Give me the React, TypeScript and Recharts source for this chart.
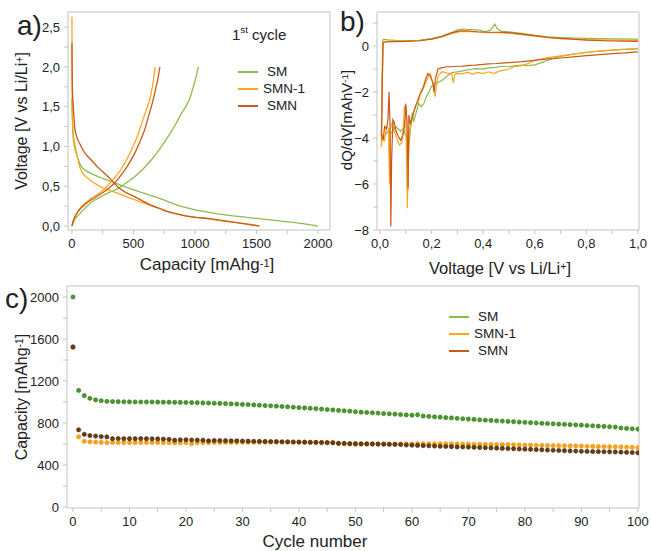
import React from 'react';
import { LineChart, Line, ScatterChart, Scatter, XAxis, YAxis } from 'recharts';

const FONT = '"Liberation Sans", Arial, sans-serif';

// series names + colours
const seriesNames = ['SM', 'SMN-1', 'SMN'];
const lineColors = ['#8dbb4c', '#ffa51f', '#c85a1a'];
const dotFill = ['#4c9a2a', '#ffa31a', '#6b3d12'];
const dotEdge = ['#2f6e14', '#e68a00', '#3d2108'];

// a) first cycle, [capacity mAh/g, voltage V]
const smDischarge: [number, number][] = [[0, 1.6], [3, 1.38], [8, 1.16], [20, 1.0], [35, 0.91], [55, 0.82], [76, 0.75], [120, 0.69], [184, 0.64], [250, 0.6], [320, 0.56], [400, 0.51], [509, 0.45], [590, 0.41], [672, 0.37], [760, 0.32], [862, 0.26], [960, 0.22], [1079, 0.18], [1200, 0.15], [1350, 0.12], [1500, 0.095], [1650, 0.07], [1800, 0.045], [1900, 0.025], [2000, 0]];
const smCharge: [number, number][] = [[0, 0], [10, 0.04], [25, 0.09], [49, 0.13], [85, 0.19], [130, 0.26], [180, 0.32], [238, 0.37], [300, 0.42], [374, 0.47], [440, 0.54], [509, 0.62], [580, 0.72], [645, 0.83], [710, 0.96], [780, 1.12], [840, 1.27], [889, 1.41], [925, 1.5], [957, 1.6], [985, 1.74], [1010, 1.88], [1027, 2.0]];
const smn1Discharge: [number, number][] = [[0, 2.63], [0.5, 2.3], [1, 1.95], [2, 1.6], [4, 1.38], [10, 1.18], [22, 1.04], [40, 0.9], [62, 0.75], [90, 0.66], [130, 0.6], [180, 0.54], [238, 0.49], [300, 0.45], [374, 0.41], [440, 0.37], [509, 0.33], [580, 0.29], [645, 0.255], [715, 0.22], [780, 0.18], [860, 0.15], [943, 0.125], [1030, 0.105], [1150, 0.08], [1250, 0.06], [1350, 0.04], [1450, 0.02], [1520, 0]];
const smn1Charge: [number, number][] = [[0, 0], [8, 0.05], [20, 0.1], [40, 0.16], [76, 0.24], [120, 0.3], [157, 0.35], [200, 0.39], [238, 0.43], [280, 0.49], [320, 0.56], [360, 0.63], [401, 0.72], [440, 0.82], [482, 0.95], [520, 1.08], [550, 1.21], [580, 1.35], [604, 1.46], [631, 1.58], [650, 1.72], [665, 1.86], [675, 2.0]];
const smnDischarge: [number, number][] = [[0, 2.3], [1, 2.1], [2, 1.9], [4, 1.72], [8, 1.58], [14, 1.42], [22, 1.25], [40, 1.12], [62, 1.04], [100, 0.93], [157, 0.83], [210, 0.74], [266, 0.66], [320, 0.58], [374, 0.49], [440, 0.42], [509, 0.37], [580, 0.31], [645, 0.26], [715, 0.22], [780, 0.18], [860, 0.15], [943, 0.12], [1030, 0.105], [1106, 0.095], [1200, 0.075], [1310, 0.05], [1420, 0.025], [1525, 0]];
const smnCharge: [number, number][] = [[0, 0], [8, 0.05], [20, 0.1], [40, 0.16], [76, 0.23], [120, 0.29], [170, 0.34], [220, 0.39], [270, 0.44], [310, 0.49], [347, 0.54], [390, 0.62], [428, 0.7], [470, 0.8], [509, 0.91], [550, 1.05], [591, 1.21], [625, 1.39], [659, 1.58], [680, 1.72], [700, 1.86], [715, 2.0]];

// b) dQ/dV, [voltage, dQ/dV] - discharge branch right->left, then charge branch
const smDqdv: [number, number][] = [[1.0, -0.12], [0.95, -0.15], [0.9, -0.18], [0.85, -0.22], [0.8, -0.27], [0.75, -0.35], [0.7, -0.45], [0.67, -0.55], [0.63, -0.7], [0.6, -0.82], [0.57, -0.85], [0.55, -0.83], [0.52, -0.86], [0.5, -0.9], [0.47, -0.88], [0.45, -0.93], [0.42, -0.95], [0.4, -1.0], [0.37, -0.98], [0.35, -1.02], [0.32, -1.08], [0.3, -1.12], [0.28, -1.15], [0.26, -1.3], [0.24, -1.5], [0.22, -1.6], [0.2, -1.75], [0.19, -2.0], [0.18, -2.2], [0.17, -2.5], [0.16, -2.64], [0.15, -2.5], [0.14, -2.9], [0.13, -3.3], [0.125, -2.9], [0.118, -3.6], [0.113, -4.3], [0.105, -4.0], [0.1, -3.9], [0.09, -3.6], [0.08, -3.7], [0.07, -3.6], [0.06, -3.5], [0.05, -3.7], [0.04, -3.8], [0.03, -3.7], [0.02, -3.9], [0.01, -4.0], [0.005, -3.9], [0.008, -1.5], [0.011, 0.25], [0.015, 0.3], [0.03, 0.27], [0.06, 0.25], [0.1, 0.24], [0.15, 0.25], [0.2, 0.32], [0.24, 0.42], [0.28, 0.6], [0.3, 0.7], [0.32, 0.74], [0.35, 0.72], [0.38, 0.7], [0.41, 0.62], [0.43, 0.7], [0.445, 0.95], [0.455, 0.75], [0.47, 0.64], [0.5, 0.62], [0.55, 0.55], [0.6, 0.46], [0.65, 0.4], [0.7, 0.37], [0.8, 0.33], [0.9, 0.31], [1.0, 0.3]];
const smn1Dqdv: [number, number][] = [[1.0, -0.1], [0.95, -0.13], [0.9, -0.18], [0.85, -0.22], [0.8, -0.28], [0.75, -0.35], [0.7, -0.43], [0.65, -0.5], [0.6, -0.62], [0.57, -0.78], [0.55, -0.85], [0.52, -0.9], [0.5, -1.0], [0.48, -1.05], [0.46, -1.1], [0.44, -1.2], [0.42, -1.12], [0.4, -1.2], [0.38, -1.15], [0.36, -1.22], [0.34, -1.15], [0.32, -1.2], [0.3, -1.2], [0.29, -1.25], [0.284, -1.6], [0.278, -1.2], [0.26, -1.18], [0.24, -1.12], [0.225, -1.3], [0.213, -2.2], [0.205, -1.6], [0.194, -1.2], [0.18, -1.5], [0.17, -1.8], [0.16, -1.9], [0.15, -2.4], [0.14, -2.6], [0.13, -2.9], [0.12, -3.4], [0.113, -3.9], [0.106, -7.05], [0.1, -3.0], [0.095, -2.6], [0.09, -3.6], [0.085, -4.2], [0.075, -4.3], [0.065, -4.0], [0.055, -3.7], [0.048, -3.3], [0.04, -3.6], [0.037, -6.0], [0.033, -3.6], [0.025, -3.5], [0.018, -4.1], [0.01, -3.9], [0.005, -4.4], [0.009, -1.5], [0.012, 0.15], [0.02, 0.2], [0.05, 0.2], [0.1, 0.21], [0.15, 0.23], [0.2, 0.3], [0.24, 0.4], [0.28, 0.55], [0.31, 0.63], [0.34, 0.64], [0.38, 0.6], [0.42, 0.58], [0.46, 0.58], [0.5, 0.56], [0.55, 0.5], [0.6, 0.43], [0.65, 0.37], [0.7, 0.32], [0.8, 0.28], [0.9, 0.26], [1.0, 0.25]];
const smnDqdv: [number, number][] = [[1.0, -0.25], [0.95, -0.3], [0.9, -0.33], [0.85, -0.37], [0.8, -0.42], [0.75, -0.47], [0.7, -0.52], [0.65, -0.56], [0.6, -0.62], [0.55, -0.68], [0.5, -0.72], [0.47, -0.74], [0.45, -0.76], [0.42, -0.78], [0.4, -0.8], [0.37, -0.83], [0.35, -0.84], [0.32, -0.87], [0.3, -0.88], [0.28, -0.9], [0.26, -0.9], [0.24, -0.94], [0.225, -1.0], [0.215, -1.4], [0.21, -2.0], [0.205, -1.6], [0.195, -1.3], [0.185, -1.2], [0.175, -1.5], [0.165, -1.9], [0.155, -2.1], [0.145, -2.4], [0.135, -2.7], [0.125, -3.1], [0.118, -3.4], [0.112, -3.0], [0.109, -6.2], [0.105, -3.3], [0.1, -2.5], [0.095, -3.5], [0.088, -3.9], [0.08, -4.1], [0.07, -3.9], [0.062, -3.7], [0.055, -3.3], [0.05, -3.2], [0.045, -5.0], [0.042, -7.85], [0.039, -3.5], [0.035, -2.0], [0.031, -3.2], [0.025, -3.6], [0.018, -3.5], [0.012, -4.1], [0.006, -3.9], [0.009, -1.5], [0.012, 0.15], [0.02, 0.18], [0.05, 0.19], [0.1, 0.2], [0.15, 0.23], [0.2, 0.3], [0.24, 0.42], [0.28, 0.58], [0.31, 0.66], [0.34, 0.66], [0.38, 0.62], [0.42, 0.6], [0.46, 0.6], [0.5, 0.58], [0.55, 0.52], [0.6, 0.45], [0.65, 0.38], [0.7, 0.33], [0.8, 0.26], [0.9, 0.22], [1.0, 0.2]];

// c) capacity per cycle (cycle 0..100), mAh/g
const smCapacity = [2000, 1110, 1060, 1035, 1020, 1012, 1006, 1004, 1003, 1002, 1001, 1000, 1000, 1000, 1000, 999, 998, 998, 997, 996, 995, 994, 993, 991, 990, 988, 986, 984, 982, 980, 977, 975, 972, 969, 966, 963, 960, 957, 954, 950, 946, 943, 940, 936, 932, 928, 924, 920, 916, 912, 907, 903, 900, 897, 894, 890, 887, 884, 880, 877, 874, 878, 866, 862, 858, 855, 851, 848, 844, 840, 837, 834, 830, 827, 824, 821, 818, 815, 812, 809, 806, 803, 800, 797, 795, 792, 789, 787, 784, 781, 779, 776, 773, 770, 767, 764, 761, 752, 748, 745, 742];
const smn1Capacity = [1520, 668, 625, 620, 618, 616, 612, 614, 614, 613, 612, 612, 613, 614, 614, 613, 612, 611, 610, 610, 612, 602, 612, 613, 613, 614, 614, 615, 615, 616, 616, 616, 617, 617, 617, 618, 618, 618, 618, 618, 618, 617, 616, 615, 614, 612, 616, 605, 603, 598, 596, 598, 599, 599, 599, 599, 598, 598, 598, 600, 601, 602, 602, 602, 602, 602, 601, 600, 600, 599, 598, 597, 597, 596, 595, 594, 594, 593, 592, 591, 590, 589, 588, 587, 586, 585, 584, 583, 582, 581, 580, 578, 577, 576, 575, 574, 573, 572, 570, 568, 566];
const smnCapacity = [1525, 735, 692, 680, 675, 670, 667, 650, 652, 650, 650, 650, 651, 650, 649, 648, 647, 645, 636, 640, 640, 638, 637, 636, 630, 633, 632, 631, 630, 630, 628, 627, 626, 625, 624, 623, 622, 621, 620, 619, 618, 617, 616, 615, 614, 613, 611, 606, 605, 604, 603, 602, 601, 600, 599, 598, 597, 596, 595, 590, 588, 586, 584, 582, 580, 578, 576, 574, 572, 571, 570, 568, 566, 564, 562, 560, 558, 556, 554, 552, 550, 548, 546, 544, 542, 540, 538, 536, 534, 532, 530, 529, 528, 527, 526, 525, 524, 522, 520, 518, 516];

const capTicks = [0, 250, 500, 750, 1000, 1250, 1500, 1750, 2000];
const voltTicks = [0, 0.25, 0.5, 0.75, 1, 1.25, 1.5, 1.75, 2, 2.25, 2.5];
const bxTicks = [0, 0.1, 0.2, 0.3, 0.4, 0.5, 0.6, 0.7, 0.8, 0.9, 1.0];
const byTicks = [-8, -7, -6, -5, -4, -3, -2, -1, 0, 1];
const cycleTicks = [0, 5, 10, 15, 20, 25, 30, 35, 40, 45, 50, 55, 60, 65, 70, 75, 80, 85, 90, 95, 100];
const cycCapTicks = [0, 200, 400, 600, 800, 1000, 1200, 1400, 1600, 1800, 2000];

const toXY = (pts: [number, number][]) => pts.map(([x, y]) => ({ x, y }));
const aCurves = [
  [smDischarge, smCharge],
  [smn1Discharge, smn1Charge],
  [smnDischarge, smnCharge],
];
const bCurves = [smDqdv, smn1Dqdv, smnDqdv];
const cSeries = [smCapacity, smn1Capacity, smnCapacity];

const tickStyle = { fontSize: 13, fill: '#222', fontFamily: FONT };
const frame = { stroke: '#d6d6d6', strokeWidth: 1.5 };
const tickLn = { stroke: '#c4c4c4' };
const comma = (v: number) => v.toFixed(1).replace('.', ',');

const Dot = (idx: number) => (props: any) => (
  <circle cx={props.cx} cy={props.cy} r={2.1} fill={dotFill[idx]} stroke={dotEdge[idx]} strokeWidth={0.6} />
);

const Legend = ({ left, top, gap }: { left: number; top: number; gap: number }) => (
  <div style={{ position: 'absolute', left, top, fontFamily: FONT, fontSize: 13.5, color: '#222' }}>
    {seriesNames.map((n, i) => (
      <div key={n} style={{ display: 'flex', alignItems: 'center', height: gap }}>
        <span style={{ display: 'inline-block', width: 20, height: 2, background: lineColors[i], marginRight: n === 'SMN-1' ? 5 : 9 }} />
        <span>{n}</span>
      </div>
    ))}
  </div>
);

const abs = (left: number, top: number, extra: React.CSSProperties = {}): React.CSSProperties => ({
  position: 'absolute', left, top, fontFamily: FONT, color: '#222', whiteSpace: 'nowrap', ...extra,
});

const VLabel = ({ cx, cy, size, children }: { cx: number; cy: number; size: number; children: React.ReactNode }) => (
  <div style={abs(cx - 120, cy - 12, { width: 240, height: 24, lineHeight: '24px', textAlign: 'center', fontSize: size, transform: 'rotate(-90deg)' })}>
    {children}
  </div>
);

const HLabel = ({ cx, cy, size, children }: { cx: number; cy: number; size: number; children: React.ReactNode }) => (
  <div style={abs(cx - 150, cy - 12, { width: 300, height: 24, lineHeight: '24px', textAlign: 'center', fontSize: size })}>
    {children}
  </div>
);

const sup: React.CSSProperties = { fontSize: '0.65em', verticalAlign: 'top', position: 'relative', top: -2 };

// frame: top and right axes without ticks
const frameAxes = [
  <XAxis key="ft" xAxisId="top" orientation="top" type="number" domain={[0, 1]} tick={false} tickLine={false} height={1} axisLine={frame} />,
  <YAxis key="fr" yAxisId="right" orientation="right" type="number" domain={[0, 1]} tick={false} tickLine={false} width={1} axisLine={frame} />,
];

export default function App() {
  return (
    <div style={{ position: 'absolute', left: 0, top: 0, width: 651, height: 551, background: '#fff', overflow: 'hidden' }}>
      {/* a) */}
      <div style={{ position: 'absolute', left: 0, top: 0 }}>
        <LineChart width={340} height={280} margin={{ top: 11, right: 9, left: 67, bottom: 49 }}>
          <XAxis type="number" dataKey="x" domain={[-32, 2098]} allowDataOverflow ticks={capTicks} interval={0}
            tickFormatter={(v: number) => (v % 500 === 0 ? String(v) : '')} height={1} tickSize={4} tickMargin={5}
            tick={tickStyle} tickLine={tickLn} axisLine={frame} />
          <YAxis type="number" dataKey="y" domain={[-0.05, 2.69]} allowDataOverflow ticks={voltTicks} interval={0}
            tickFormatter={(v: number) => (Math.round(v * 100) % 50 === 0 ? comma(v) : '')} width={1} tickSize={4} tickMargin={4}
            tick={tickStyle} tickLine={tickLn} axisLine={frame} />
          {frameAxes}
          {aCurves.map((pair, i) =>
            pair.map((curve, j) => (
              <Line key={`a-${i}-${j}`} type="monotone" data={toXY(curve)} dataKey="y" stroke={lineColors[i]} strokeWidth={1.3}
                dot={false} isAnimationActive={false} />
            ))
          )}
        </LineChart>
      </div>

      {/* b) */}
      <div style={{ position: 'absolute', left: 320, top: 0 }}>
        <LineChart width={331} height={280} margin={{ top: 11, right: 11, left: 56, bottom: 49 }}>
          <XAxis type="number" dataKey="x" domain={[-0.0116, 1.004]} allowDataOverflow ticks={bxTicks} interval={0}
            tickFormatter={(v: number) => (Math.round(v * 10) % 2 === 0 ? comma(v) : '')} height={1} tickSize={4} tickMargin={5}
            tick={tickStyle} tickLine={tickLn} axisLine={frame} />
          <YAxis type="number" dataKey="y" domain={[-8, 1.48]} allowDataOverflow ticks={byTicks} interval={0}
            tickFormatter={(v: number) => (v % 2 === 0 ? (v < 0 ? '\u2212' + Math.abs(v) : String(v)) : '')} width={1} tickSize={4} tickMargin={4}
            tick={tickStyle} tickLine={tickLn} axisLine={frame} />
          {frameAxes}
          {bCurves.map((curve, i) => (
            <Line key={`b-${i}`} data={toXY(curve)} dataKey="y" stroke={lineColors[i]} strokeWidth={1.2}
              dot={false} isAnimationActive={false} />
          ))}
        </LineChart>
      </div>

      {/* c) */}
      <div style={{ position: 'absolute', left: 0, top: 280 }}>
        <ScatterChart width={651} height={271} margin={{ top: 5, right: 11, left: 66, bottom: 42 }}>
          <XAxis type="number" dataKey="x" domain={[-1.06, 100.2]} allowDataOverflow ticks={cycleTicks} interval={0}
            tickFormatter={(v: number) => (v % 10 === 0 ? String(v) : '')} height={1} tickSize={4} tickMargin={5}
            tick={tickStyle} tickLine={tickLn} axisLine={frame} />
          <YAxis type="number" dataKey="y" domain={[-10, 2105]} allowDataOverflow ticks={cycCapTicks} interval={0}
            tickFormatter={(v: number) => (v % 400 === 0 ? String(v) : '')} width={1} tickSize={4} tickMargin={4}
            tick={tickStyle} tickLine={tickLn} axisLine={frame} />
          {frameAxes}
          {[1, 2, 0].map((i) => (
            <Scatter key={`c-${i}`} name={seriesNames[i]} data={cSeries[i].map((y, k) => ({ x: k, y }))}
              shape={Dot(i)} isAnimationActive={false} />
          ))}
        </ScatterChart>
      </div>

      {/* panel letters */}
      <div style={abs(17, 10, { fontSize: 28 })}>a)</div>
      <div style={abs(340, 6, { fontSize: 28 })}>b)</div>
      <div style={abs(5, 283, { fontSize: 28 })}>c)</div>

      {/* legend a */}
      <div style={abs(232, 26, { fontSize: 15 })}>1<span style={sup}>st</span> cycle</div>
      <Legend left={238} top={63} gap={17} />
      {/* legend c */}
      <Legend left={449} top={308} gap={17} />

      {/* axis titles */}
      <HLabel cx={207} cy={265} size={17}>Capacity [mAhg<span style={sup}>-1</span>]</HLabel>
      <VLabel cx={22} cy={121} size={16}>Voltage [V vs Li/Li<span style={sup}>+</span>]</VLabel>
      <HLabel cx={500} cy={268} size={16.5}>Voltage [V vs Li/Li<span style={sup}>+</span>]</HLabel>
      <VLabel cx={347} cy={120} size={15}>dQ/dV[mAhV<span style={sup}>-1</span>]</VLabel>
      <HLabel cx={315} cy={542} size={17}>Cycle number</HLabel>
      <VLabel cx={22} cy={397} size={16}>Capacity [mAhg<span style={sup}>-1</span>]</VLabel>
    </div>
  );
}
